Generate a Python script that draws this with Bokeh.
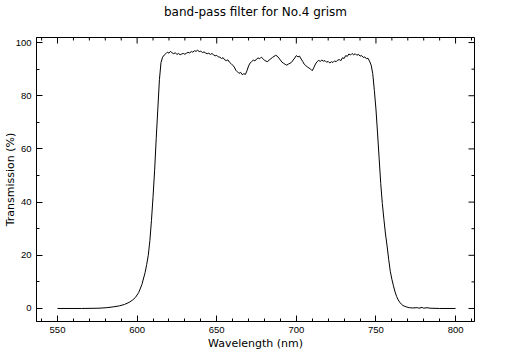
import math
from bokeh.plotting import figure
from bokeh.models import FixedTicker, Range1d
from bokeh.embed import file_html
from bokeh.resources import INLINE

# ---- data ----
wl_rise = [550, 565, 576, 581, 585, 589, 592, 595, 597, 599, 601, 603, 605, 606,
           607, 608, 609, 610, 611, 612, 613, 614, 615, 616]
tr_rise = [0.0, 0.0, 0.1, 0.3, 0.6, 1.0, 1.5, 2.3, 3.1, 4.2, 6.0, 9.0, 13.5, 16.5,
           20.0, 25.5, 33.0, 42.0, 52.0, 64.0, 75.0, 86.0, 92.5, 94.5]

wl_top = list(range(617, 747))
tr_top = [95.3, 95.8, 96.4, 96.0, 96.7, 96.1, 95.8, 96.2, 95.5, 95.9,
          95.4, 95.7, 95.9, 95.6, 96.0, 96.3, 96.1, 96.6, 96.4, 96.9,
          96.7, 97.1, 96.6, 96.8, 96.2, 96.5, 96.1, 95.8, 96.0, 95.5,
          95.9, 95.4, 95.0, 95.2, 94.6, 94.5, 94.0, 94.3, 93.5, 93.2,
          93.5, 92.6, 92.1, 91.5, 90.8, 89.6, 89.0, 88.4, 88.8, 87.9,
          88.3, 88.0, 89.4, 91.2, 92.3, 92.9, 93.4, 93.1, 93.8, 94.2,
          93.9, 94.5, 94.0, 93.3, 93.0, 92.8, 93.5, 93.9, 94.4, 94.8,
          95.2, 94.9, 94.2, 93.4, 92.6, 92.2, 91.8, 91.5, 91.9, 92.2,
          92.6, 93.4, 94.2, 95.1, 94.6, 94.9, 93.8, 92.9, 91.8, 91.3,
          90.8, 90.4, 90.0, 89.4, 90.6, 91.9, 92.8, 93.3, 92.9, 93.4,
          93.0, 93.2, 92.6, 92.9, 92.3, 92.8, 92.5, 93.1, 92.8, 93.4,
          93.6, 93.2, 94.3, 94.0, 95.1, 94.8, 95.7, 95.3, 95.9, 95.4,
          95.8, 95.2, 95.6, 94.9, 95.1, 94.4, 94.6, 93.9, 94.1, 93.0]

wl_fall = [747, 748, 749, 750, 751, 752, 753, 754, 755, 756, 757, 758, 759, 760,
           761, 762, 763, 764, 765, 766, 767, 769, 771, 773, 776, 777, 779, 780,
           782, 784, 790, 800]
tr_fall = [91.5, 88.3, 82.0, 75.0, 66.0, 56.5, 47.0, 39.5, 33.5, 28.0, 23.5, 18.5,
           14.0, 11.0, 8.5, 6.2, 4.5, 3.2, 2.3, 1.6, 1.1, 0.6, 0.3, 0.2, 0.3, 0.1,
           0.4, 0.1, 0.3, 0.1, 0.0, 0.0]

wavelength = wl_rise + wl_top + wl_fall
transmission = tr_rise + tr_top + tr_fall

x_major = [550, 600, 650, 700, 750, 800]
x_minor = [v for v in range(540, 811, 10) if v not in x_major]
y_major = [0, 20, 40, 60, 80, 100]
y_minor = [v for v in range(10, 101, 20)]

X_LO, X_HI = 536.8, 811.9
Y_LO, Y_HI = -4.9, 101.9

FONT = "DejaVu Sans"
TICK_FONT = "Liberation Sans"

p = figure(width=510, height=357, output_backend="svg", toolbar_location=None,
           x_range=Range1d(X_LO, X_HI), y_range=Range1d(Y_LO, Y_HI),
           title="band-pass filter for No.4 grism",
           min_border_left=36, min_border_right=36, min_border_top=37,
           min_border_bottom=36, x_axis_label="Wavelength (nm)",
           y_axis_label="Transmission (%)")

p.title.align = "center"
p.title.padding = dict(top=0, right=0, bottom=19, left=0)
p.title.text_font = FONT
p.title.text_font_style = "normal"
p.title.text_font_size = "12px"
p.title.text_color = "black"
p.title.offset = 0
p.title.standoff = 0

p.grid.visible = False
p.outline_line_color = "black"
p.outline_line_width = 1
p.background_fill_color = "white"
p.border_fill_color = "white"

p.line(wavelength, transmission, line_color="black", line_width=1)

def style(ax, ticks, minor):
    ax.ticker = FixedTicker(ticks=ticks, minor_ticks=minor + ticks)
    ax.major_tick_in = 6
    ax.major_tick_out = 0
    ax.minor_tick_in = 3
    ax.minor_tick_out = 0
    ax.axis_line_color = "black"
    ax.major_tick_line_color = "black"
    ax.minor_tick_line_color = "black"
    ax.major_label_text_font = TICK_FONT
    ax.major_label_text_font_size = "9.5px"
    ax.major_label_text_color = "black"
    ax.axis_label_text_font = FONT
    ax.axis_label_text_font_style = "normal"
    ax.axis_label_text_color = "black"
    ax.axis_label_text_font_size = "11px"

style(p.xaxis[0], x_major, x_minor)
style(p.yaxis[0], y_major, y_minor)
p.xaxis[0].major_label_standoff = 5
p.xaxis[0].axis_label_standoff = 1
p.yaxis[0].major_label_standoff = 5
p.yaxis[0].axis_label_standoff = -4

# inward tick marks on the top and right edges (clipped to the frame)
p.scatter(x_major, [Y_HI] * len(x_major), marker="dash", size=12,
          angle=math.pi / 2, line_color="black", line_width=1)
p.scatter(x_minor, [Y_HI] * len(x_minor), marker="dash", size=6,
          angle=math.pi / 2, line_color="black", line_width=1)
p.scatter([X_HI] * len(y_major), y_major, marker="dash", size=12,
          line_color="black", line_width=1)
p.scatter([X_HI] * len(y_minor), y_minor, marker="dash", size=6,
          line_color="black", line_width=1)

open("out.html", "w").write(file_html(p, INLINE))
